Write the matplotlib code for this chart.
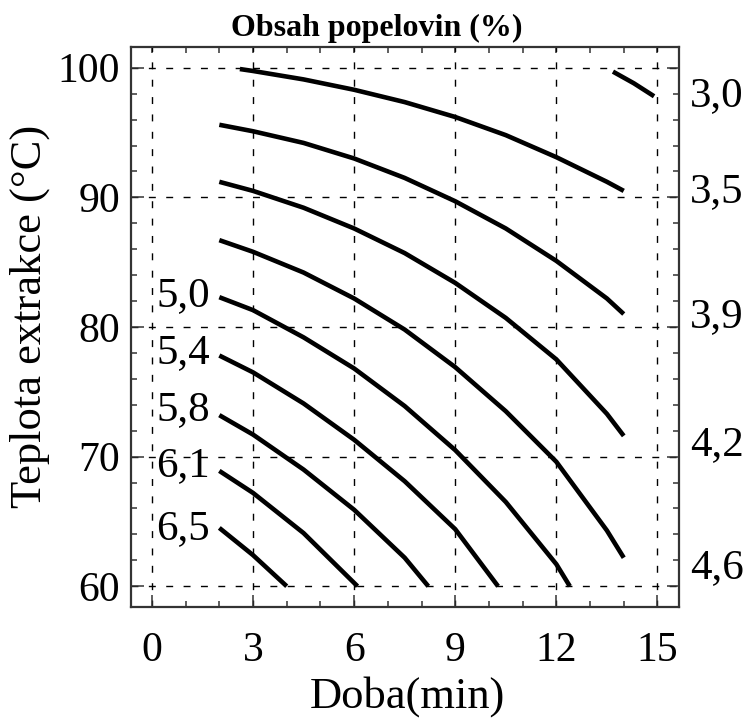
import matplotlib
matplotlib.use('Agg')
import matplotlib.pyplot as plt
from matplotlib.ticker import MultipleLocator

plt.rcParams['font.family'] = ['Liberation Serif', 'DejaVu Serif']

# vrstevnice: doba (min) -> teplota (C)
c30_x = [13.68, 14.3, 14.9]
c30_y = [99.7, 98.8, 97.8]
c35_x = [2.61, 3, 4.5, 6, 7.5, 9, 10.5, 12, 13.5, 14]
c35_y = [99.9, 99.75, 99.1, 98.3, 97.35, 96.2, 94.8, 93.1, 91.2, 90.5]
c39_x = [2, 3, 4.5, 6, 7.5, 9, 10.5, 12, 13.5, 14]
c39_y = [95.6, 95.1, 94.2, 93.0, 91.5, 89.7, 87.6, 85.1, 82.2, 81.0]
c42_x = [2, 3, 4.5, 6, 7.5, 9, 10.5, 12, 13.5, 14]
c42_y = [91.2, 90.5, 89.2, 87.6, 85.7, 83.4, 80.7, 77.5, 73.3, 71.6]
c46_x = [2, 3, 4.5, 6, 7.5, 9, 10.5, 12, 13.5, 14]
c46_y = [86.7, 85.8, 84.2, 82.2, 79.8, 76.9, 73.5, 69.6, 64.3, 62.2]
c50_x = [2, 3, 4.5, 6, 7.5, 9, 10.5, 12, 12.4]
c50_y = [82.3, 81.3, 79.2, 76.8, 73.9, 70.5, 66.5, 61.7, 60.0]
c54_x = [2, 3, 4.5, 6, 7.5, 9, 10.27]
c54_y = [77.8, 76.5, 74.1, 71.3, 68.1, 64.4, 60.0]
c58_x = [2, 3, 4.5, 6, 7.5, 8.2]
c58_y = [73.2, 71.7, 69.0, 65.9, 62.2, 60.0]
c61_x = [2, 3, 4.5, 6.1]
c61_y = [68.9, 67.2, 64.1, 60.0]
c65_x = [2, 3, 4.0]
c65_y = [64.5, 62.4, 60.0]

curves = [(c30_x, c30_y), (c35_x, c35_y), (c39_x, c39_y), (c42_x, c42_y),
          (c46_x, c46_y), (c50_x, c50_y), (c54_x, c54_y), (c58_x, c58_y),
          (c61_x, c61_y), (c65_x, c65_y)]

left_labels = ['5,0', '5,4', '5,8', '6,1', '6,5']
left_y = [82.4, 78.0, 73.6, 69.3, 64.4]
right_labels = ['3,0', '3,5', '3,9', '4,2', '4,6']
right_y = [97.8, 90.4, 80.8, 70.9, 61.4]

x_ticks = [0, 3, 6, 9, 12, 15]
y_ticks = [60, 70, 80, 90, 100]

fig = plt.figure(figsize=(7.47, 7.22), dpi=100)
ax = fig.add_axes([0.1754, 0.1593, 0.7336, 0.7756])

for xs, ys in curves:
    ax.plot(xs, ys, color='black', lw=3.3, solid_capstyle='butt', solid_joinstyle='round')

ax.set_xlim(-0.62, 15.64)
ax.set_ylim(58.4, 101.6)
ax.set_xticks(x_ticks)
ax.set_yticks(y_ticks)
ax.xaxis.set_minor_locator(MultipleLocator(1))
ax.yaxis.set_minor_locator(MultipleLocator(2))
ax.grid(True, which='major', color='black', lw=1.0, linestyle=(0, (5, 7.5)))

ax.tick_params(axis='both', which='both', direction='in', width=1.1, colors='#333333',
               labelcolor='black', labelsize=30, top=False, right=True)
ax.tick_params(axis='both', which='major', length=9)
ax.tick_params(axis='both', which='minor', length=4.5)
ax.tick_params(axis='x', pad=18)
ax.tick_params(axis='y', pad=8)

top = ax.secondary_xaxis('top')
top.set_xticks(list(range(0, 16)))
top.tick_params(direction='in', length=4.5, width=1.1, colors='#333333', labeltop=False)
top.spines['top'].set_visible(False)

for s in ax.spines.values():
    s.set_color('#333333')
    s.set_linewidth(1.6)

for lab, yy in zip(left_labels, left_y):
    ax.text(1.72, yy, lab, fontsize=31, ha='right', va='center')
for lab, yy in zip(right_labels, right_y):
    ax.text(1.02, yy, lab, fontsize=31, ha='left', va='center',
            transform=ax.get_yaxis_transform(), clip_on=False)

fig.text(0.505, 0.961, 'Obsah popelovin (%)', fontsize=23, fontweight='bold',
         ha='center', va='center')
fig.text(0.545, 0.035, 'Doba(min)', fontsize=32, ha='center', va='center')
fig.text(0.040, 0.562, 'Teplota extrakce (°C)', fontsize=32, rotation=90,
         ha='center', va='center')

fig.savefig('out.png', dpi=100)
